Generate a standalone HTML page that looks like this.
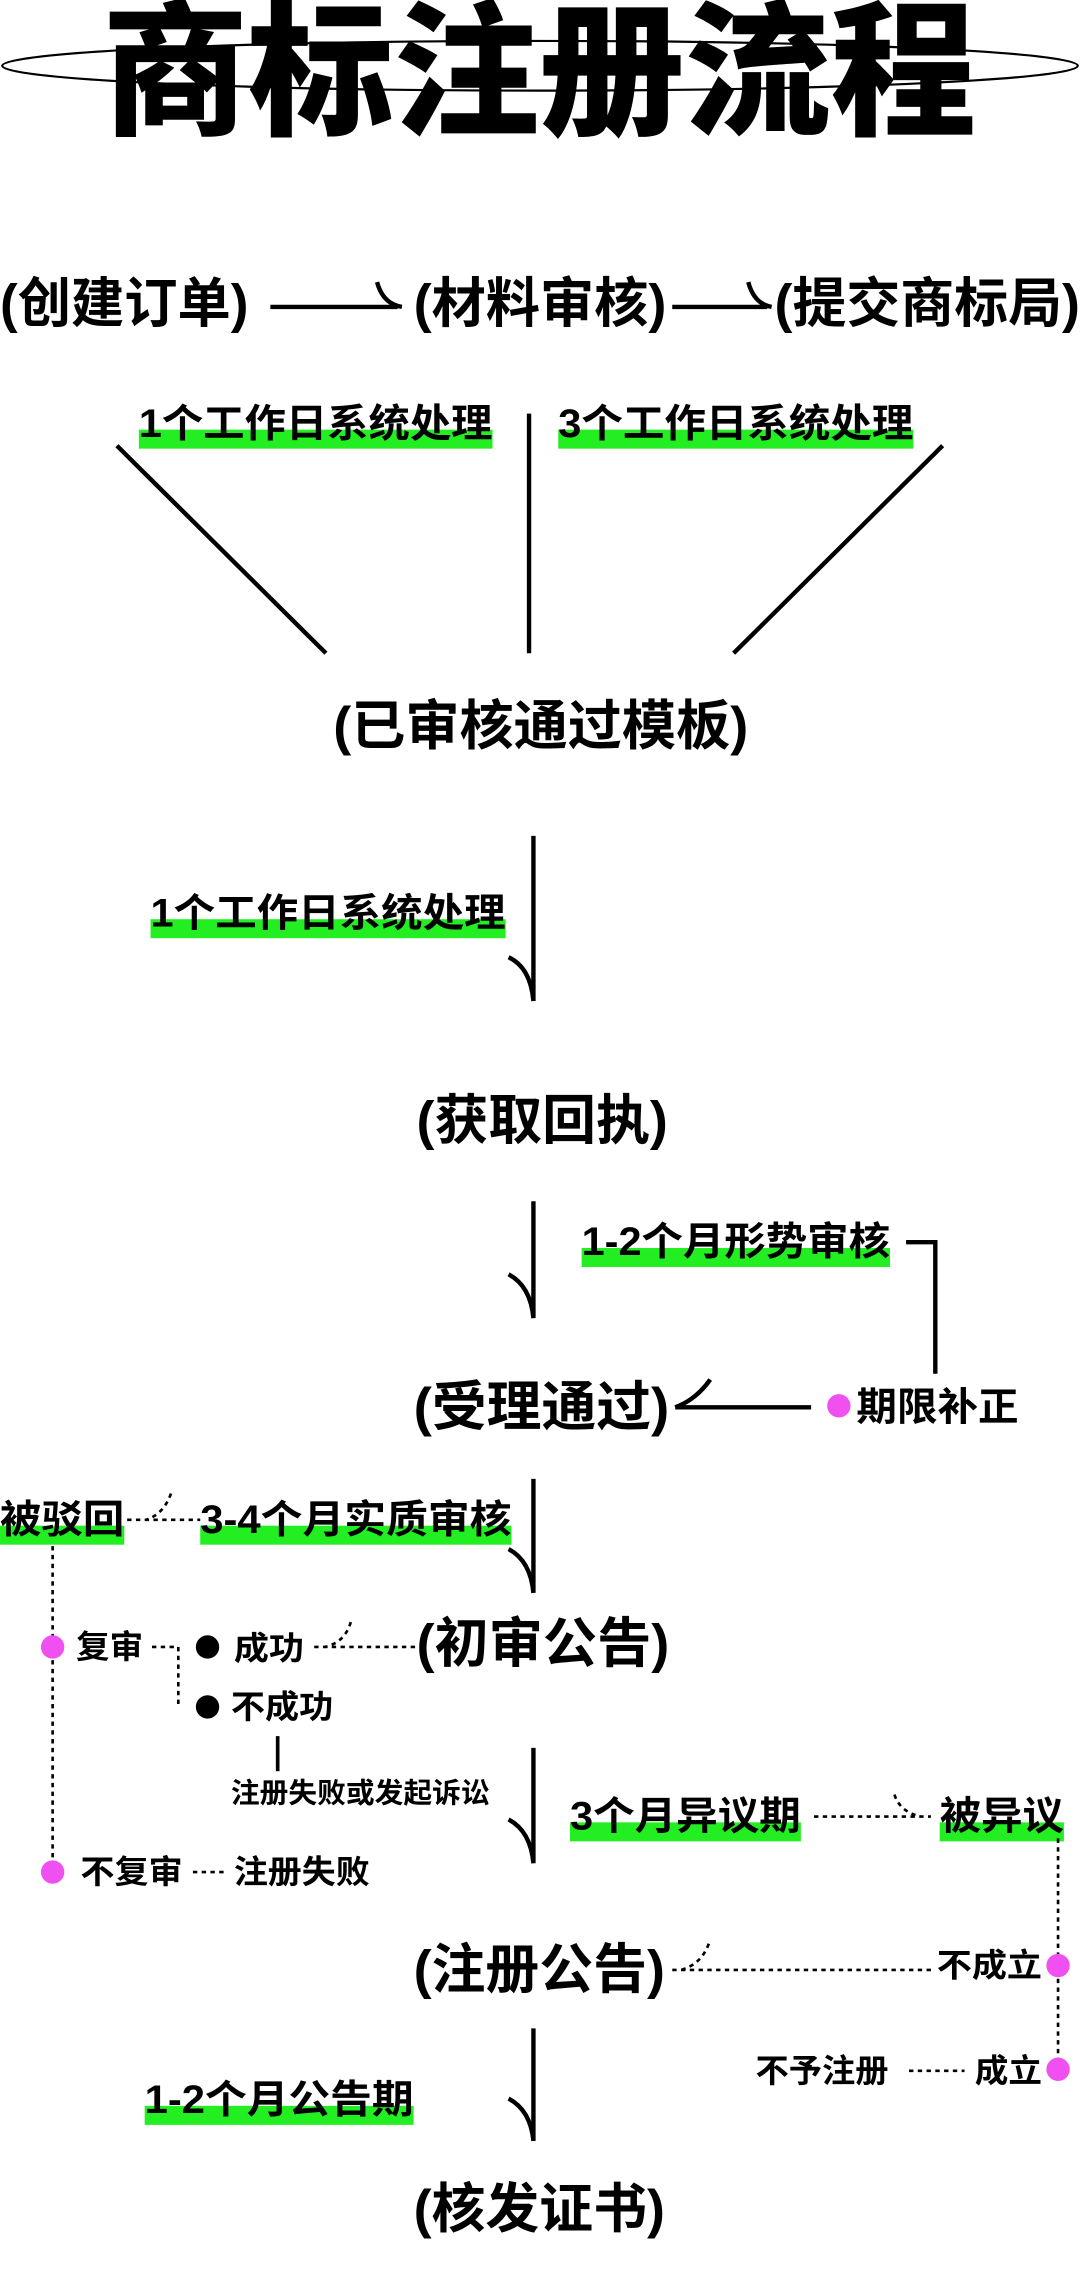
<!DOCTYPE html>
<html><head><meta charset="utf-8"><style>
html,body{margin:0;padding:0;background:#fff;}
svg{display:block}
text{font-family:"Liberation Sans","Noto Sans CJK SC",sans-serif;font-weight:700;fill:#000;dominant-baseline:central}
</style></head><body>
<svg width="1080" height="2290" viewBox="0 0 739 1567" xmlns="http://www.w3.org/2000/svg">
<rect width="739" height="1567" fill="#fff"/>
<ellipse cx="369.5" cy="45" rx="368" ry="17" fill="none" stroke="#000" stroke-width="1.5"/>
<text x="70" y="50" font-size="100" textLength="598" lengthAdjust="spacingAndGlyphs" style="font-weight:900">商标注册流程</text>

<g fill="#22ee22">
<rect x="95" y="294" width="242" height="13"/>
<rect x="382" y="294" width="243" height="13"/>
<rect x="103" y="629" width="243" height="13"/>
<rect x="398" y="854" width="211" height="13"/>
<rect x="0" y="1044" width="85" height="13"/>
<rect x="137" y="1044" width="213" height="13"/>
<rect x="390" y="1247" width="158" height="13"/>
<rect x="643" y="1247" width="85" height="13"/>
<rect x="99" y="1441" width="184" height="13"/>
</g>

<g stroke="#000" stroke-width="3" fill="none" stroke-linecap="butt">
<path d="M185,210 H272 M258,193 Q262,208 275,210"/>
<path d="M460,210 H525 M512,193 Q516,208 528,210"/>
<path d="M80,305 L223,447 M362,283 V447 M645,305 L502,447"/>
<path d="M365,572 V685 M348,655 Q363,662 365,685"/>
<path d="M365,822 V902 M348,872 Q363,880 365,902"/>
<path d="M620,850 H640 V940"/>
<path d="M555,963 H462 M486,944 Q476,958 462,963"/>
<path d="M365,1012 V1090 M348,1060 Q363,1068 365,1090"/>
<path d="M365,1196 V1275 M348,1245 Q363,1253 365,1275"/>
<path d="M365,1388 V1465 M348,1436 Q363,1444 365,1465"/>
<path d="M190,1188 V1212" stroke-width="2.5"/>
</g>

<g stroke="#000" stroke-width="1.8" fill="none" stroke-dasharray="3,3">
<path d="M87,1040 H137 M117,1022 Q112,1036 100,1040"/>
<path d="M36,1058 V1275"/>
<path d="M104,1127 H122 V1168"/>
<path d="M215,1127 H285 M240,1110 Q236,1124 222,1127"/>
<path d="M132,1281 H155"/>
<path d="M557,1243 H637 M612,1228 Q616,1240 630,1243"/>
<path d="M724,1258 V1416"/>
<path d="M460,1348 H638 M485,1330 Q480,1344 466,1348"/>
<path d="M622,1417 H660"/>
</g>

<g fill="#f050f0">
<circle cx="574" cy="962" r="8"/>
<circle cx="36" cy="1127" r="8"/>
<circle cx="36" cy="1281" r="8"/>
<circle cx="724" cy="1345" r="8"/>
<circle cx="724" cy="1416" r="8"/>
</g>
<g fill="#000">
<circle cx="142" cy="1127" r="8"/>
<circle cx="142" cy="1168" r="8"/>
</g>

<g font-size="37">
<text x="0" y="208" textLength="170" lengthAdjust="spacingAndGlyphs">(创建订单)</text>
<text x="283" y="208" textLength="173" lengthAdjust="spacingAndGlyphs">(材料审核)</text>
<text x="530" y="208" textLength="209" lengthAdjust="spacingAndGlyphs">(提交商标局)</text>
<text x="228" y="497" textLength="284" lengthAdjust="spacingAndGlyphs">(已审核通过模板)</text>
<text x="285" y="767" textLength="172" lengthAdjust="spacingAndGlyphs">(获取回执)</text>
<text x="283" y="963" textLength="175" lengthAdjust="spacingAndGlyphs">(受理通过)</text>
<text x="285" y="1125" textLength="173" lengthAdjust="spacingAndGlyphs">(初审公告)</text>
<text x="283" y="1348" textLength="172" lengthAdjust="spacingAndGlyphs">(注册公告)</text>
<text x="283" y="1512" textLength="172" lengthAdjust="spacingAndGlyphs">(核发证书)</text>
</g>
<g font-size="27">
<text x="95" y="290" textLength="242" lengthAdjust="spacingAndGlyphs">1个工作日系统处理</text>
<text x="382" y="290" textLength="243" lengthAdjust="spacingAndGlyphs">3个工作日系统处理</text>
<text x="103" y="625" textLength="243" lengthAdjust="spacingAndGlyphs">1个工作日系统处理</text>
<text x="398" y="850" textLength="211" lengthAdjust="spacingAndGlyphs">1-2个月形势审核</text>
<text x="0" y="1040" textLength="85" lengthAdjust="spacingAndGlyphs">被驳回</text>
<text x="137" y="1040" textLength="213" lengthAdjust="spacingAndGlyphs">3-4个月实质审核</text>
<text x="390" y="1243" textLength="158" lengthAdjust="spacingAndGlyphs">3个月异议期</text>
<text x="643" y="1243" textLength="85" lengthAdjust="spacingAndGlyphs">被异议</text>
<text x="99" y="1437" textLength="184" lengthAdjust="spacingAndGlyphs">1-2个月公告期</text>
<text x="586" y="963" textLength="111" lengthAdjust="spacingAndGlyphs">期限补正</text>
</g>
<g font-size="22">
<text x="52" y="1127" textLength="46" lengthAdjust="spacingAndGlyphs">复审</text>
<text x="160" y="1128" textLength="48" lengthAdjust="spacingAndGlyphs">成功</text>
<text x="158" y="1168" textLength="70" lengthAdjust="spacingAndGlyphs">不成功</text>
<text x="55" y="1281" textLength="70" lengthAdjust="spacingAndGlyphs">不复审</text>
<text x="160" y="1281" textLength="93" lengthAdjust="spacingAndGlyphs">注册失败</text>
<text x="641" y="1345" textLength="72" lengthAdjust="spacingAndGlyphs">不成立</text>
<text x="517" y="1417" textLength="91" lengthAdjust="spacingAndGlyphs">不予注册</text>
<text x="667" y="1417" textLength="46" lengthAdjust="spacingAndGlyphs">成立</text>
</g>
<text x="158" y="1227" font-size="19" textLength="177" lengthAdjust="spacingAndGlyphs">注册失败或发起诉讼</text>
</svg>
</body></html>
